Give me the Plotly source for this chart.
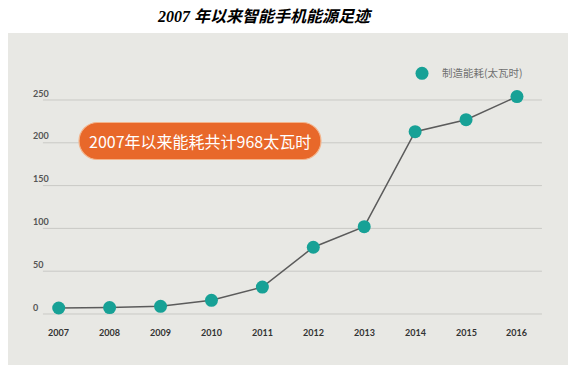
import plotly.graph_objects as go

# ---- data ----
years = [2007, 2008, 2009, 2010, 2011, 2012, 2013, 2014, 2015, 2016]
energy = [7, 7.5, 9, 16, 31.5, 78, 102, 213, 227, 254]
y_ticks = [0, 50, 100, 150, 200, 250]
series_name = "制造能耗(太瓦时)"
title_text = "2007 年以来智能手机能源足迹"
callout_text = "2007年以来能耗共计968太瓦时"

# page body has an 8px margin, so the figure is sized to end at the window edge
W, H = 571, 361
panel_r, panel_t, panel_b = 560, 25, 357

x_range = [2006.0043, 2017.002]
y_range = [-59.58, 328.27]

fig = go.Figure()

# line
fig.add_trace(go.Scatter(x=years, y=energy, mode="lines",
                         line=dict(color="#5b5b5b", width=1.5),
                         showlegend=False, hoverinfo="skip"))
# markers
fig.add_trace(go.Scatter(x=years, y=energy, mode="markers", name=series_name,
                         marker=dict(color="#17a196", size=13, line=dict(width=0)),
                         showlegend=True))

shapes = []
for t in y_ticks:
    shapes.append(dict(type="line", xref="x", yref="y", x0=2006.69, x1=2016.49,
                       y0=t, y1=t, line=dict(color="#c9c9c5", width=1), layer="below"))


def pill(hw, hh):
    r = hh
    k = 0.5523 * r
    a = hw - r
    return (f"M {-a},{-hh} L {a},{-hh} "
            f"C {a+k},{-hh} {hw},{-k} {hw},0 "
            f"C {hw},{k} {a+k},{hh} {a},{hh} "
            f"L {-a},{hh} "
            f"C {-a-k},{hh} {-hw},{k} {-hw},0 "
            f"C {-hw},{-k} {-a-k},{-hh} {-a},{-hh} Z")


cx, cy = 2009.775, 202.1
shapes.append(dict(type="path", xref="x", yref="y", xsizemode="pixel", ysizemode="pixel",
                   xanchor=cx, yanchor=cy, path=pill(121, 18.5),
                   fillcolor="#e8682a", line=dict(color="#f3b48c", width=1.2), layer="above"))

annotations = []
for t in y_ticks:
    annotations.append(dict(x=2006.515, y=t, xref="x", yref="y", text=str(t),
                            showarrow=False, xanchor="left", yanchor="middle",
                            yshift=7, xshift=-3,
                            font=dict(family="Lato", size=9, color="#555555", weight="bold")))
for yv in years:
    annotations.append(dict(x=yv, y=0, xref="x", yref="y", text=str(yv),
                            showarrow=False, xanchor="center", yanchor="middle", yshift=-18,
                            font=dict(family="Lato", size=9, color="#333333", weight="bold")))
annotations.append(dict(x=cx, y=cy, xref="x", yref="y", text=callout_text, showarrow=False,
                        xanchor="center", yanchor="middle",
                        font=dict(family="Noto Sans CJK SC", size=16, color="white")))

fig.update_layout(
    width=W, height=H,
    margin=dict(l=0, r=W - panel_r, t=panel_t, b=H - panel_b, autoexpand=False),
    paper_bgcolor="white", plot_bgcolor="#e8e8e4",
    xaxis=dict(range=x_range, visible=False, fixedrange=True),
    yaxis=dict(range=y_range, visible=False, fixedrange=True),
    shapes=shapes, annotations=annotations,
    title=dict(text=title_text, x=256 / W, xanchor="center", xref="container",
               y=1 - 8 / H, yanchor="middle", yref="container",
               font=dict(family="Liberation Serif, Noto Sans CJK SC", size=16,
                         color="black", weight="bold", style="italic")),
    legend=dict(x=394 / panel_r, y=(panel_b - 65.3) / (panel_b - panel_t),
                xanchor="left", yanchor="middle", bgcolor="rgba(0,0,0,0)",
                font=dict(family="Noto Sans CJK SC", size=10.5, color="#707070")),
)

fig.write_html("out.html")
